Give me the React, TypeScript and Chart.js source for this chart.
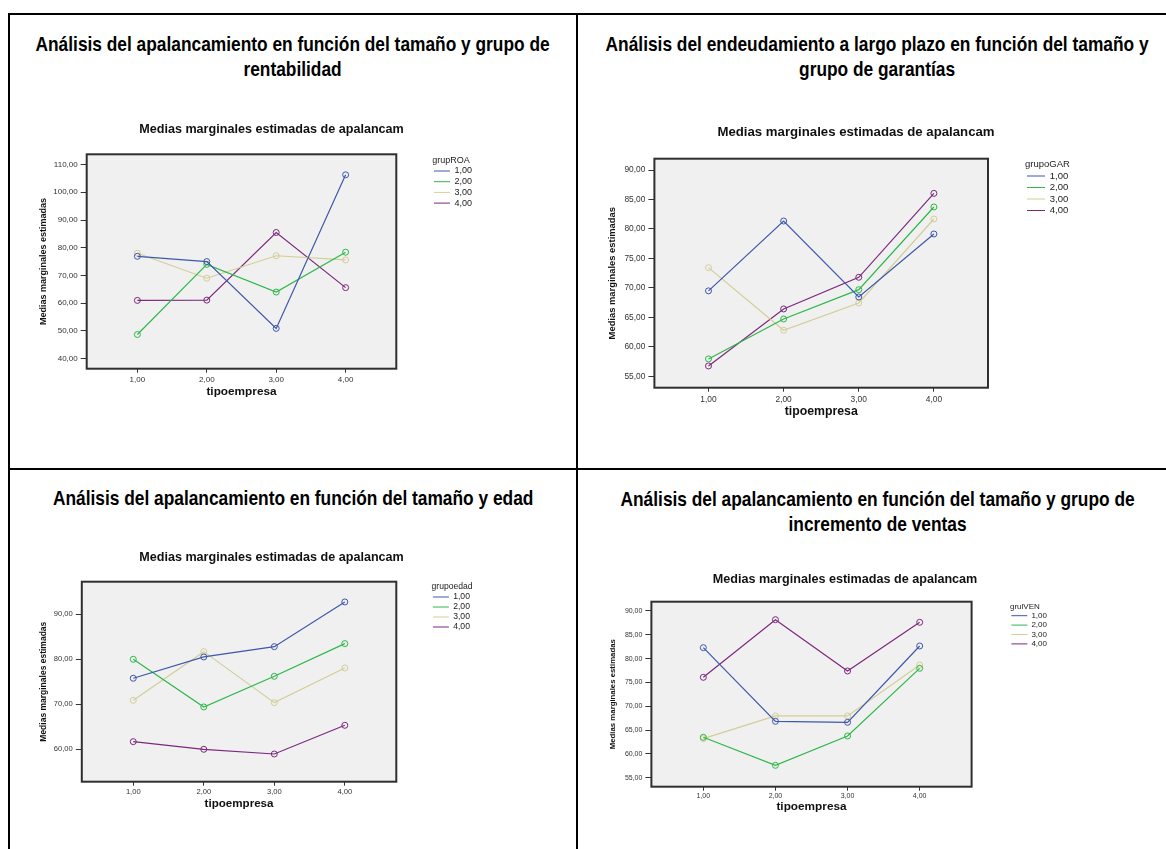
import React, { useEffect, useRef } from 'react';
import { Chart, registerables } from 'chart.js';

Chart.register(...registerables);

const SANS = '"Liberation Sans", Arial, Helvetica, sans-serif';

// ---------- shared categories ----------
const tipoEmpresa = [1, 2, 3, 4];
const tipoEmpresaLabels = ['1,00', '2,00', '3,00', '4,00'];
const groupLabels = ['1,00', '2,00', '3,00', '4,00'];
const groupColors = ['#3E58AC', '#2EB848', '#D3CE97', '#7C287D'];

// ---------- chart 1: grupROA ----------
const roaG1 = [76.9, 75.0, 50.9, 106.3];
const roaG2 = [48.7, 74.0, 64.0, 78.4];
const roaG3 = [78.0, 69.0, 77.1, 75.6];
const roaG4 = [61.0, 61.1, 85.5, 65.6];
const roaTicks = [40, 50, 60, 70, 80, 90, 100, 110];

// ---------- chart 2: grupoGAR ----------
const garG1 = [69.5, 81.35, 68.46, 79.15];
const garG2 = [57.95, 64.73, 69.7, 83.73];
const garG3 = [73.44, 62.81, 67.44, 81.69];
const garG4 = [56.76, 66.43, 71.8, 86.04];
const garTicks = [55, 60, 65, 70, 75, 80, 85, 90];

// ---------- chart 3: grupoedad ----------
const edadG1 = [75.78, 80.52, 82.81, 92.74];
const edadG2 = [80.0, 69.41, 76.22, 83.48];
const edadG3 = [70.89, 81.7, 70.37, 78.07];
const edadG4 = [61.7, 60.0, 58.96, 65.33];
const edadTicks = [60, 70, 80, 90];

// ---------- chart 4: grulVEN ----------
const venG1 = [82.3, 66.84, 66.63, 82.65];
const venG2 = [63.48, 57.6, 63.76, 77.96];
const venG3 = [63.2, 67.96, 67.96, 78.66];
const venG4 = [76.07, 88.18, 77.4, 87.62];
const venTicks = [55, 60, 65, 70, 75, 80, 85, 90];

const chartTitle = 'Medias marginales estimadas de apalancam';
const yAxisTitle = 'Medias marginales estimadas';
const xAxisTitle = 'tipoempresa';

const fmt = (v: number) => v.toFixed(2).replace('.', ',');

type Fonts = { tick: number; legend: number; title: number; yTitle: number; xTitle: number };
type Layout = {
  cl: number; ct: number;
  al: number; ar: number; at: number; ab: number;
  tx: number; ty: number;
  yTitleX: number; xTickY: number; xTitleY: number;
  legLeft: number; legTitleY: number; legRow1: number; legGap: number; legLine: number;
  fonts: Fonts;
};

const framePlugin = {
  id: 'plotFrame',
  beforeDraw(chart: any) {
    const { ctx, chartArea: a } = chart;
    ctx.save();
    ctx.fillStyle = '#F0F0F0';
    ctx.fillRect(a.left, a.top, a.right - a.left, a.bottom - a.top);
    ctx.restore();
  },
  afterDatasetsDraw(chart: any) {
    const { ctx, chartArea: a } = chart;
    ctx.save();
    ctx.strokeStyle = '#2f2f2f';
    ctx.lineWidth = 2;
    ctx.strokeRect(a.left, a.top, a.right - a.left, a.bottom - a.top);
    ctx.restore();
  },
};

const legendWidthPlugin = {
  id: 'legendWidth',
  beforeLayout(chart: any, _args: any, opts: any) {
    const lg = chart.legend;
    if (lg && !lg.__fixedW) {
      const orig = lg.fit;
      const w = opts.width;
      lg.fit = function (this: any) {
        orig.call(this);
        this.width = w;
      };
      lg.__fixedW = true;
    }
  },
};

function dims(l: Layout) {
  const f = l.fonts;
  const xTitleLH = f.xTitle * 1.2;
  const W = Math.round(2 * (l.tx - l.cl));
  const H = Math.round(l.xTitleY + xTitleLH / 2 - l.ct);
  return { W, H };
}

function buildConfig(
  l: Layout,
  series: number[][],
  legendTitle: string,
  yTicks: number[],
  yMin: number,
  yMax: number,
  xMin: number,
  xMax: number,
): any {
  const f = l.fonts;
  const { W, H } = dims(l);
  const titleLH = f.title * 1.2;
  const xTitleLH = f.xTitle * 1.2;
  const yTitleLH = f.yTitle * 1.2;
  const xAxisH = l.ct + H - l.ab;
  const yAxisW = l.al - l.cl;
  const spacerW = l.legLeft - l.ar;
  const legendW = l.cl + W - l.legLeft;
  const titlePadTop = l.ty - l.ct - titleLH / 2;
  const titlePadBottom = l.at - l.ct - titlePadTop - titleLH;
  const yTitlePad = l.yTitleX - l.cl - yTitleLH / 2;
  const xTickLen = 4;
  const xTickPad = Math.max(0, l.xTickY - l.ab - xTickLen - 0.56 * f.tick);
  const xTitlePadBottom = Math.max(0, l.ct + H - l.xTitleY - xTitleLH / 2);
  const legPad = l.legGap - f.legend;
  const legTitlePadTop = Math.max(0, l.legTitleY - l.at - f.legend / 2);
  const legTitleLH = Math.max(1, l.legRow1 - l.at - legPad - f.legend / 2 - legTitlePadTop);

  const datasets = series.map((vals, i) => ({
    label: groupLabels[i],
    data: vals.map((v, j) => ({ x: tipoEmpresa[j], y: v })),
    borderColor: groupColors[i],
    backgroundColor: groupColors[i],
    borderWidth: 1.2,
    pointRadius: 3,
    pointHoverRadius: 3,
    pointBorderWidth: 1,
    pointBackgroundColor: 'rgba(0,0,0,0)',
    pointBorderColor: groupColors[i],
    tension: 0,
    fill: false,
    xAxisID: 'x',
    yAxisID: 'y',
  }));

  return {
    type: 'line',
    data: { datasets },
    plugins: [framePlugin, legendWidthPlugin],
    options: {
      responsive: false,
      maintainAspectRatio: false,
      animation: false,
      devicePixelRatio: 1,
      events: [],
      layout: { padding: 0 },
      scales: {
        x: {
          type: 'linear',
          position: 'bottom',
          min: xMin,
          max: xMax,
          afterBuildTicks: (s: any) => {
            s.ticks = tipoEmpresa.map((v) => ({ value: v }));
          },
          afterFit: (s: any) => {
            s.height = xAxisH;
          },
          ticks: {
            callback: (_v: any, i: number) => tipoEmpresaLabels[i],
            font: { family: SANS, size: f.tick },
            color: '#333333',
            padding: xTickPad,
            autoSkip: false,
            maxRotation: 0,
            minRotation: 0,
          },
          grid: {
            display: true,
            drawOnChartArea: false,
            drawTicks: true,
            tickLength: xTickLen,
            color: '#333333',
            lineWidth: 1,
          },
          border: { display: false },
          title: {
            display: true,
            text: xAxisTitle,
            color: '#111111',
            font: { family: SANS, size: f.xTitle, weight: 'bold', lineHeight: 1.2 },
            padding: { top: 0, bottom: xTitlePadBottom },
          },
        },
        y: {
          type: 'linear',
          position: 'left',
          min: yMin,
          max: yMax,
          afterBuildTicks: (s: any) => {
            s.ticks = yTicks.map((v) => ({ value: v }));
          },
          afterFit: (s: any) => {
            s.width = yAxisW;
          },
          ticks: {
            callback: (v: any) => fmt(Number(v)),
            font: { family: SANS, size: f.tick },
            color: '#333333',
            padding: 3,
          },
          grid: {
            display: true,
            drawOnChartArea: false,
            drawTicks: true,
            tickLength: 6,
            color: '#333333',
            lineWidth: 1,
          },
          border: { display: false },
          title: {
            display: true,
            text: yAxisTitle,
            color: '#111111',
            font: { family: SANS, size: f.yTitle, weight: 'bold', lineHeight: 1.2 },
            padding: { top: yTitlePad, bottom: 0 },
          },
        },
        spacer: {
          type: 'linear',
          position: 'right',
          display: true,
          grid: { display: false, drawTicks: false },
          border: { display: false },
          ticks: { display: false },
          title: { display: false },
          afterFit: (s: any) => {
            s.width = spacerW;
          },
        },
      },
      plugins: {
        legendWidth: { width: legendW },
        tooltip: { enabled: false },
        title: {
          display: true,
          text: chartTitle,
          color: '#111111',
          font: { family: SANS, size: f.title, weight: 'bold', lineHeight: 1.2 },
          padding: { top: titlePadTop, bottom: titlePadBottom },
        },
        legend: {
          display: true,
          position: 'right',
          align: 'start',
          fullSize: false,
          title: {
            display: true,
            text: legendTitle,
            position: 'start',
            color: '#222222',
            font: { family: SANS, size: f.legend, lineHeight: legTitleLH + 'px' },
            padding: { top: legTitlePadTop, bottom: 0 },
          },
          labels: {
            usePointStyle: true,
            pointStyle: 'line',
            pointStyleWidth: l.legLine,
            boxHeight: f.legend,
            padding: legPad,
            color: '#222222',
            font: { family: SANS, size: f.legend },
          },
        },
      },
    },
  };
}

type PanelProps = {
  layout: Layout;
  series: number[][];
  legendTitle: string;
  yTicks: number[];
  yMin: number;
  yMax: number;
  xMin: number;
  xMax: number;
};

function SpssPanel(p: PanelProps) {
  const ref = useRef<HTMLCanvasElement | null>(null);
  const { W, H } = dims(p.layout);
  useEffect(() => {
    if (!ref.current) return;
    const chart = new Chart(
      ref.current,
      buildConfig(p.layout, p.series, p.legendTitle, p.yTicks, p.yMin, p.yMax, p.xMin, p.xMax),
    );
    return () => chart.destroy();
  }, []);
  return (
    <canvas
      ref={ref}
      width={W}
      height={H}
      style={{ position: 'absolute', left: p.layout.cl, top: p.layout.ct, width: W, height: H }}
    />
  );
}

const layout1: Layout = {
  cl: 20, ct: 110, al: 86.7, ar: 396.3, at: 154.3, ab: 368.7, tx: 271.6, ty: 129.3,
  yTitleX: 43.5, xTickY: 379.7, xTitleY: 392,
  legLeft: 432.3, legTitleY: 160.3, legRow1: 171, legGap: 10.7, legLine: 16,
  fonts: { tick: 8, legend: 9, title: 12.6, yTitle: 9, xTitle: 11.8 },
};
const layout2: Layout = {
  cl: 590, ct: 110, al: 654.4, ar: 988, at: 158.7, ab: 387.7, tx: 856, ty: 132.3,
  yTitleX: 612.9, xTickY: 399.3, xTitleY: 411.7,
  legLeft: 1025, legTitleY: 164.7, legRow1: 176, legGap: 11.5, legLine: 18,
  fonts: { tick: 8.4, legend: 9.5, title: 13.2, yTitle: 9.4, xTitle: 12.3 },
};
const layout3: Layout = {
  cl: 20, ct: 535, al: 81.8, ar: 396.3, at: 581.7, ab: 781.7, tx: 271.6, ty: 557.7,
  yTitleX: 43.5, xTickY: 791.7, xTitleY: 804,
  legLeft: 431.5, legTitleY: 586.3, legRow1: 597, legGap: 10, legLine: 16,
  fonts: { tick: 7.6, legend: 8.6, title: 12.6, yTitle: 8.5, xTitle: 11.6 },
};
const layout4: Layout = {
  cl: 590, ct: 555, al: 651.4, ar: 971.6, at: 601.7, ab: 786.7, tx: 844.8, ty: 580,
  yTitleX: 613, xTickY: 796, xTitleY: 806.7,
  legLeft: 1010, legTitleY: 606.3, legRow1: 615.7, legGap: 9.4, legLine: 16,
  fonts: { tick: 7, legend: 8, title: 12.6, yTitle: 7.8, xTitle: 11.8 },
};

const headingStyle = (left: number, top: number, width: number): React.CSSProperties => ({
  position: 'absolute',
  left,
  top,
  width,
  display: 'flex',
  justifyContent: 'center',
  fontFamily: SANS,
  fontWeight: 'bold',
  fontSize: 21,
  lineHeight: '25px',
  color: '#000',
  whiteSpace: 'nowrap',
});

const headingInner: React.CSSProperties = {
  display: 'block',
  flexShrink: 0,
  textAlign: 'center',
  transform: 'scaleX(0.825)',
  transformOrigin: '50% 50%',
};

const line = (left: number, top: number, width: number, height: number): React.CSSProperties => ({
  position: 'absolute',
  left,
  top,
  width,
  height,
  background: '#000',
});

export default function App() {
  return (
    <div
      style={{
        position: 'absolute',
        left: 0,
        top: 0,
        width: 1166,
        height: 849,
        overflow: 'hidden',
        background: '#fff',
      }}
    >
      <div style={line(8, 13, 1170, 2)} />
      <div style={line(8, 13, 2, 840)} />
      <div style={line(576, 13, 2, 840)} />
      <div style={line(8, 468, 1170, 2)} />

      <div style={headingStyle(10, 30.8, 566)}>
        <span style={headingInner}>
          Análisis del apalancamiento en función del tamaño y grupo de
          <br />
          rentabilidad
        </span>
      </div>
      <div style={headingStyle(578, 30.8, 599)}>
        <span style={headingInner}>
          Análisis del endeudamiento a largo plazo en función del tamaño y
          <br />
          grupo de garantías
        </span>
      </div>
      <div style={headingStyle(10, 485.2, 566)}>
        <span style={headingInner}>Análisis del apalancamiento en función del tamaño y edad</span>
      </div>
      <div style={headingStyle(578, 485.8, 599)}>
        <span style={headingInner}>
          Análisis del apalancamiento en función del tamaño y grupo de
          <br />
          incremento de ventas
        </span>
      </div>

      <SpssPanel
        layout={layout1}
        series={[roaG1, roaG2, roaG3, roaG4]}
        legendTitle="grupROA"
        yTicks={roaTicks}
        yMin={36.36}
        yMax={113.7}
        xMin={0.27}
        xMax={4.73}
      />
      <SpssPanel
        layout={layout2}
        series={[garG1, garG2, garG3, garG4]}
        legendTitle="grupoGAR"
        yTicks={garTicks}
        yMin={53.07}
        yMax={91.92}
        xMin={0.28}
        xMax={4.72}
      />
      <SpssPanel
        layout={layout3}
        series={[edadG1, edadG2, edadG3, edadG4]}
        legendTitle="grupoedad"
        yTicks={edadTicks}
        yMin={52.8}
        yMax={97.24}
        xMin={0.27}
        xMax={4.73}
      />
      <SpssPanel
        layout={layout4}
        series={[venG1, venG2, venG3, venG4]}
        legendTitle="grulVEN"
        yTicks={venTicks}
        yMin={53.11}
        yMax={91.95}
        xMin={0.28}
        xMax={4.72}
      />
    </div>
  );
}
